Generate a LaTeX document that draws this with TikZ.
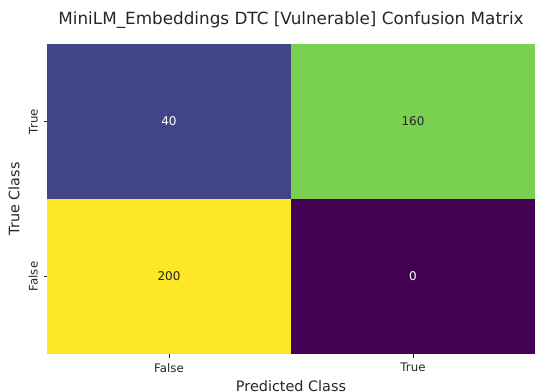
\documentclass[tikz,border=0pt]{standalone}
\usepackage{fontspec}
\setmainfont{DejaVu Sans}
\usetikzlibrary{positioning}
\definecolor{vforty}{HTML}{414487}
\definecolor{vonesixty}{HTML}{7AD151}
\definecolor{vtwohundred}{HTML}{FDE725}
\definecolor{vzero}{HTML}{440154}
\definecolor{darktext}{HTML}{262626}
\tikzset{
  cell/.style={minimum width=244pt, minimum height=155pt, inner sep=0pt, outer sep=0pt, font=\fontsize{12}{14}\selectfont},
  ticklabel/.style={font=\fontsize{11.8}{13}\selectfont, text=darktext, inner sep=5.5pt},
  axislabel/.style={font=\fontsize{14.4}{16}\selectfont, text=darktext, inner sep=0pt},
  tick/.style={darktext, line width=0.8pt}
}
\begin{document}
\begin{tikzpicture}[x=1pt,y=-1pt]
			\useasboundingbox (0,0) rectangle (535,391);
			\node[cell, fill=vforty, text=white] (TrueFalse) at (169,121.5) {40} ;
			\node[cell, fill=vonesixty, text=darktext] (TrueTrue) at (413,121.5) {160} ;
			\node[cell, fill=vtwohundred, text=darktext] (FalseFalse) at (169,276.5) {200} ;
			\node[cell, fill=vzero, text=white] (FalseTrue) at (413,276.5) {0} ;
			% ticks
			\coordinate (ytTrue) at ([xshift=-3.5pt]TrueFalse.west) ;
			\coordinate (ytFalse) at ([xshift=-3.5pt]FalseFalse.west) ;
			\coordinate (xtFalse) at ([yshift=-3.5pt]FalseFalse.south) ;
			\coordinate (xtTrue) at ([yshift=-3.5pt]FalseTrue.south) ;
			\draw[tick] (TrueFalse.west) -- (ytTrue) ;
			\draw[tick] (FalseFalse.west) -- (ytFalse) ;
			\draw[tick] (FalseFalse.south) -- (xtFalse) ;
			\draw[tick] (FalseTrue.south) -- (xtTrue) ;
			\node[ticklabel, rotate=90, anchor=south] (yTrue) at (ytTrue) {True} ;
			\node[ticklabel, rotate=90, anchor=south] (yFalse) at (ytFalse) {False} ;
			\node[ticklabel, anchor=north] (xFalse) at (xtFalse) {False} ;
			\node[ticklabel, anchor=north] (xTrue) at (xtTrue) {True} ;
			% axis labels and title
			\node[axislabel] (xLabel) at (291,386.5) {Predicted Class} ;
			\node[axislabel, rotate=90] (yLabel) at (14,199) {True Class} ;
			\node[axislabel, font=\fontsize{16.8}{19}\selectfont] (Title) at (291,20.5) {MiniLM\_Embeddings DTC [Vulnerable] Confusion Matrix} ;
		\end{tikzpicture}
\end{document}
